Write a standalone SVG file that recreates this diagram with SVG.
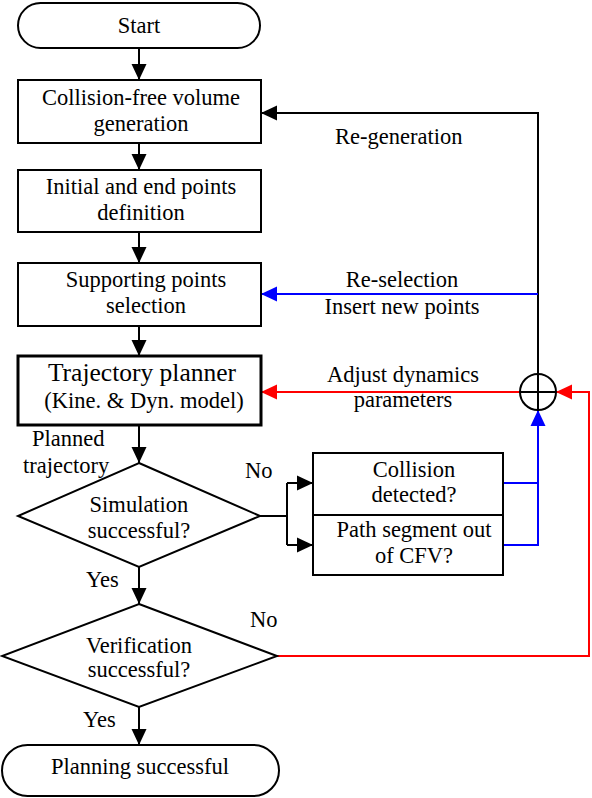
<svg xmlns="http://www.w3.org/2000/svg" width="592" height="798" viewBox="0 0 592 798">
<style>
.n{fill:#fff;stroke:#000;stroke-width:2}
.t{font-family:"Liberation Serif","Times New Roman",serif;font-size:22.5px;fill:#000}
.m{text-anchor:middle}
.c{fill:none;stroke-width:2}
.k{stroke:#000}
.b{stroke:#0000ff}
.r{stroke:#ff0000}
</style>
<defs>
<marker id="ak" markerUnits="userSpaceOnUse" markerWidth="17" markerHeight="16" refX="16" refY="8" orient="auto"><path d="M0,0.5 L16,8 L0,15.5 Z" fill="#000"/></marker>
<marker id="ab" markerUnits="userSpaceOnUse" markerWidth="17" markerHeight="16" refX="16" refY="8" orient="auto"><path d="M0,0.5 L16,8 L0,15.5 Z" fill="#0000ff"/></marker>
<marker id="ar" markerUnits="userSpaceOnUse" markerWidth="17" markerHeight="16" refX="16" refY="8" orient="auto"><path d="M0,0.5 L16,8 L0,15.5 Z" fill="#ff0000"/></marker>
</defs>
<rect width="592" height="798" fill="#fff"/>
<g id="connectors">
<path class="c k" d="M139,47 V80" marker-end="url(#ak)"/>
<path class="c k" d="M139,143 V170" marker-end="url(#ak)"/>
<path class="c k" d="M139,232 V263" marker-end="url(#ak)"/>
<path class="c k" d="M139,326 V356" marker-end="url(#ak)"/>
<path class="c k" d="M139,425 V463" marker-end="url(#ak)"/>
<path class="c k" d="M139,567 V604" marker-end="url(#ak)"/>
<path class="c k" d="M139,707 V745" marker-end="url(#ak)"/>
<path class="c k" d="M260,516 H287 M287,483 V545"/>
<path class="c k" d="M287,483 H313" marker-end="url(#ak)"/>
<path class="c k" d="M287,545 H313" marker-end="url(#ak)"/>
<path class="c b" d="M503,483 H538"/>
<path class="c b" d="M503,545 H538 V410" marker-end="url(#ab)"/>
<path class="c k" d="M538,374 V113 H261" marker-end="url(#ak)"/>
<path class="c b" d="M538,294 H261" marker-end="url(#ab)"/>
<path class="c r" d="M520,392 H261" marker-end="url(#ar)"/>
<path class="c r" d="M277,656 H589 V392 H556" marker-end="url(#ar)"/>
<text class="t" x="335" y="144">Re-generation</text>
<text class="t m" x="402" y="287">Re-selection</text>
<text class="t m" x="402" y="314">Insert new points</text>
<text class="t m" x="403" y="382">Adjust dynamics</text>
<text class="t m" x="403" y="407">parameters</text>
<text class="t" x="32" y="446">Planned</text>
<text class="t" x="23" y="473">trajectory</text>
<text class="t" x="245" y="478">No</text>
<text class="t" x="86" y="587">Yes</text>
<text class="t" x="250" y="627">No</text>
<text class="t" x="83" y="727">Yes</text>
</g>
<g id="sum">
<circle cx="538" cy="392" r="18" fill="#fff" stroke="#000" stroke-width="2"/>
<path d="M520,392 H556 M538,374 V410" stroke="#000" stroke-width="2"/>
</g>
<g id="start">
<rect class="n" x="18" y="3" width="242" height="45" rx="22.5"/>
<text class="t m" x="139" y="33">Start</text>
</g>
<g id="cfv">
<rect class="n" x="18" y="80" width="243" height="63"/>
<text class="t m" x="141" y="105">Collision-free volume</text>
<text class="t m" x="141" y="131">generation</text>
</g>
<g id="points">
<rect class="n" x="18" y="170" width="243" height="62"/>
<text class="t m" x="141" y="194">Initial and end points</text>
<text class="t m" x="141" y="220">definition</text>
</g>
<g id="support">
<rect class="n" x="18" y="263" width="243" height="63"/>
<text class="t m" x="146" y="287">Supporting points</text>
<text class="t m" x="146" y="313">selection</text>
</g>
<g id="planner">
<rect class="n" x="18" y="356" width="243" height="69" style="stroke-width:3"/>
<text class="t m" x="142" y="381" style="font-size:25.5px">Trajectory planner</text>
<text class="t m" x="144" y="408">(Kine. &amp; Dyn. model)</text>
</g>
<g id="sim">
<polygon class="n" points="139,463 260,516 139,567 18,516"/>
<text class="t m" x="139" y="512">Simulation</text>
<text class="t m" x="139" y="538">successful?</text>
</g>
<g id="collision">
<rect class="n" x="313" y="453" width="190" height="62"/>
<text class="t m" x="414" y="477">Collision</text>
<text class="t m" x="414" y="502">detected?</text>
</g>
<g id="outcfv">
<rect class="n" x="313" y="515" width="190" height="60"/>
<text class="t m" x="414" y="537">Path segment out</text>
<text class="t m" x="414" y="563">of CFV?</text>
</g>
<g id="verif">
<polygon class="n" points="139,604 277,656 139,707 2,656"/>
<text class="t m" x="139" y="653">Verification</text>
<text class="t m" x="139" y="677">successful?</text>
</g>
<g id="end">
<rect class="n" x="2" y="745" width="277" height="51" rx="25.5"/>
<text class="t m" x="140" y="774">Planning successful</text>
</g>
</svg>
